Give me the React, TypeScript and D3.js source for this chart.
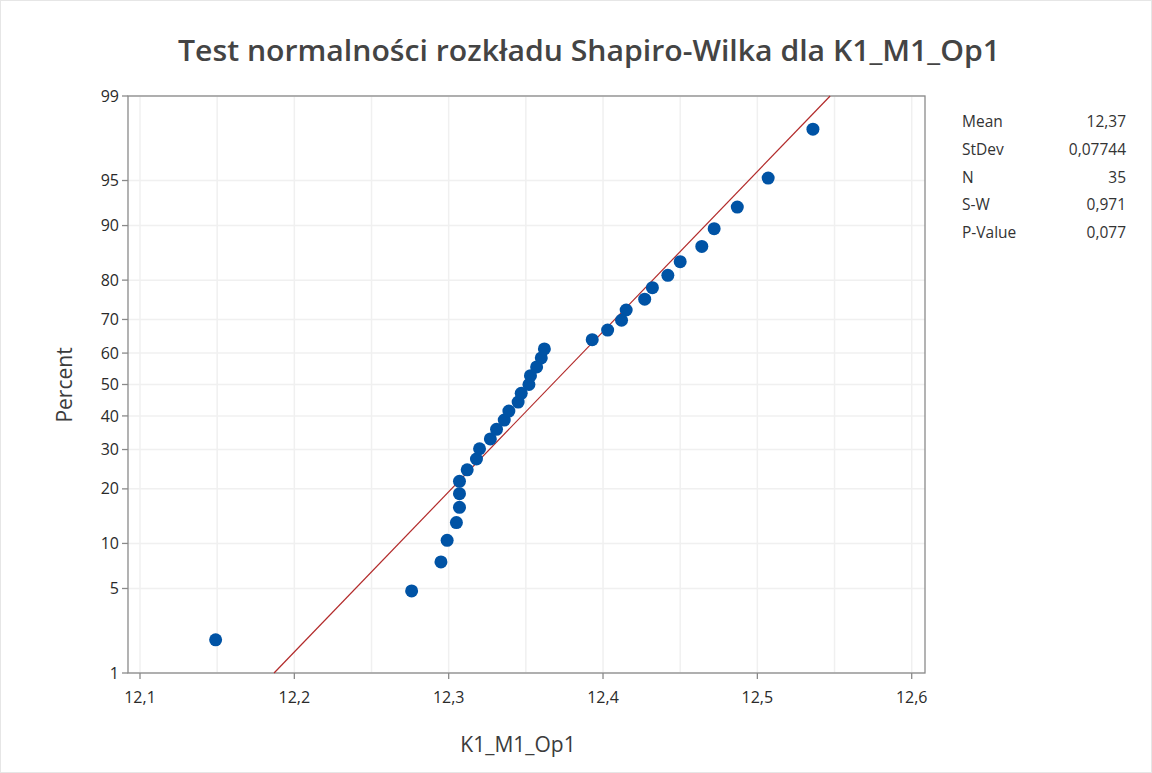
import React from "react";
import * as d3 from "d3";

const values: number[] = [
  12.149, 12.276, 12.295, 12.299, 12.305, 12.307, 12.307, 12.307, 12.312, 12.318,
  12.32, 12.327, 12.331, 12.336, 12.339, 12.345, 12.347, 12.352, 12.353, 12.357,
  12.36, 12.362, 12.393, 12.403, 12.412, 12.415, 12.427, 12.432, 12.442, 12.45,
  12.464, 12.472, 12.487, 12.507, 12.536,
];
// Plotted percentiles (median ranks)
const percents: number[] = [
  1.977, 4.802, 7.627, 10.452, 13.277, 16.102, 18.927, 21.751, 24.576, 27.401,
  30.226, 33.051, 35.876, 38.701, 41.525, 44.35, 47.175, 50.0, 52.825, 55.65,
  58.475, 61.299, 64.124, 66.949, 69.774, 72.599, 75.424, 78.249, 81.073, 83.898,
  86.723, 89.548, 92.373, 95.198, 98.023,
];
const yTicks: number[] = [1, 5, 10, 20, 30, 40, 50, 60, 70, 80, 90, 95, 99];
const xTicks: number[] = [12.1, 12.2, 12.3, 12.4, 12.5, 12.6];
const xGrid: number[] = [12.1, 12.15, 12.2, 12.25, 12.3, 12.35, 12.4, 12.45, 12.5, 12.55, 12.6];
const statLabels: string[] = ["Mean", "StDev", "N", "S-W", "P-Value"];
const statValues: string[] = ["12,37", "0,07744", "35", "0,971", "0,077"];
const fitMean = 12.367;
const fitSd = 0.07744;

const title = "Test normalności rozkładu Shapiro-Wilka dla K1_M1_Op1";
const FONT = "'Open Sans', 'Noto Sans', sans-serif";

const W = 1152, H = 773;
const plot = { left: 128, right: 925, top: 96, bottom: 673 };

function probit(p: number): number {
  // inverse normal CDF (Acklam)
  const a = [-3.969683028665376e1, 2.209460984245205e2, -2.759285104469687e2, 1.38357751867269e2, -3.066479806614716e1, 2.506628277459239];
  const b = [-5.447609879822406e1, 1.615858368580409e2, -1.556989798598866e2, 6.680131188771972e1, -1.328068155288572e1];
  const c = [-7.784894002430293e-3, -3.223964580411365e-1, -2.400758277161838, -2.549732539343734, 4.374664141464968, 2.938163982698783];
  const d = [7.784695709041462e-3, 3.224671290700398e-1, 2.445134137142996, 3.754408661907416];
  const pl = 0.02425;
  let q: number, r: number;
  if (p < pl) {
    q = Math.sqrt(-2 * Math.log(p));
    return (((((c[0] * q + c[1]) * q + c[2]) * q + c[3]) * q + c[4]) * q + c[5]) / ((((d[0] * q + d[1]) * q + d[2]) * q + d[3]) * q + 1);
  }
  if (p <= 1 - pl) {
    q = p - 0.5; r = q * q;
    return (((((a[0] * r + a[1]) * r + a[2]) * r + a[3]) * r + a[4]) * r + a[5]) * q / (((((b[0] * r + b[1]) * r + b[2]) * r + b[3]) * r + b[4]) * r + 1);
  }
  q = Math.sqrt(-2 * Math.log(1 - p));
  return -(((((c[0] * q + c[1]) * q + c[2]) * q + c[3]) * q + c[4]) * q + c[5]) / ((((d[0] * q + d[1]) * q + d[2]) * q + d[3]) * q + 1);
}

export default function App() {
  const x = d3.scaleLinear().domain([12.1, 12.6]).range([140, 911.7]);
  const zScale = d3.scaleLinear().domain([probit(0.01), probit(0.99)]).range([plot.bottom, plot.top]);
  const y = (pct: number) => zScale(probit(pct / 100));

  const z1 = probit(0.01), z99 = probit(0.99);
  const lineData: [number, number][] = [
    [fitMean + z1 * fitSd, z1],
    [fitMean + z99 * fitSd, z99],
  ];
  const line = d3.line<[number, number]>().x((d) => x(d[0])).y((d) => zScale(d[1]));

  return (
    <svg width={W} height={H} style={{ position: "absolute", left: 0, top: 0, background: "#fff" }} fontFamily={FONT}>
      <rect x={0.5} y={0.5} width={W - 1} height={H - 1} fill="#fff" stroke="#e6e6e6" />
      <text x={589} y={61} textAnchor="middle" fontSize={28} fontWeight={600} fill="#444" textLength={822} lengthAdjust="spacingAndGlyphs">{title}</text>

      {/* grid */}
      {xGrid.map((g) => (
        <line key={"xg" + g} x1={x(g)} x2={x(g)} y1={plot.top} y2={plot.bottom} stroke="#f0f0f0" strokeWidth={1.5} />
      ))}
      {yTicks.map((t) => (
        <line key={"yg" + t} x1={plot.left} x2={plot.right} y1={y(t)} y2={y(t)} stroke="#f0f0f0" strokeWidth={1.5} />
      ))}

      {/* frame */}
      <rect x={plot.left} y={plot.top} width={plot.right - plot.left} height={plot.bottom - plot.top} fill="none" stroke="#8a8a8a" strokeWidth={1.3} />

      {/* y axis ticks */}
      {yTicks.map((t) => (
        <g key={"yt" + t}>
          <line x1={plot.left - 6} x2={plot.left} y1={y(t)} y2={y(t)} stroke="#8a8a8a" strokeWidth={1.3} />
          <text x={plot.left - 9} y={y(t)} dy="0.35em" textAnchor="end" fontSize={16} fill="#2a2a2a">{t}</text>
        </g>
      ))}
      {/* x axis ticks */}
      {xTicks.map((t) => (
        <g key={"xt" + t}>
          <line x1={x(t)} x2={x(t)} y1={plot.bottom} y2={plot.bottom + 6} stroke="#8a8a8a" strokeWidth={1.3} />
          <text x={x(t)} y={plot.bottom + 30} textAnchor="middle" fontSize={16} fill="#2a2a2a">{t.toFixed(1).replace(".", ",")}</text>
        </g>
      ))}

      {/* fitted line */}
      <path d={line(lineData) || ""} stroke="#b22a2a" strokeWidth={1.2} fill="none" />

      {/* points */}
      {values.map((v, i) => (
        <circle key={"p" + i} cx={x(v)} cy={y(percents[i])} r={6.5} fill="#0053a5" />
      ))}

      {/* axis titles */}
      <text x={518} y={752} textAnchor="middle" fontSize={21} fill="#3c3c3c">K1_M1_Op1</text>
      <text transform={`translate(72,385) rotate(-90)`} textAnchor="middle" fontSize={21} fill="#3c3c3c">Percent</text>

      {/* stats */}
      {statLabels.map((s, i) => (
        <g key={"s" + s}>
          <text x={962} y={127 + i * 27.8} fontSize={15.5} fill="#333">{s}</text>
          <text x={1126} y={127 + i * 27.8} fontSize={15.5} fill="#333" textAnchor="end">{statValues[i]}</text>
        </g>
      ))}
    </svg>
  );
}
